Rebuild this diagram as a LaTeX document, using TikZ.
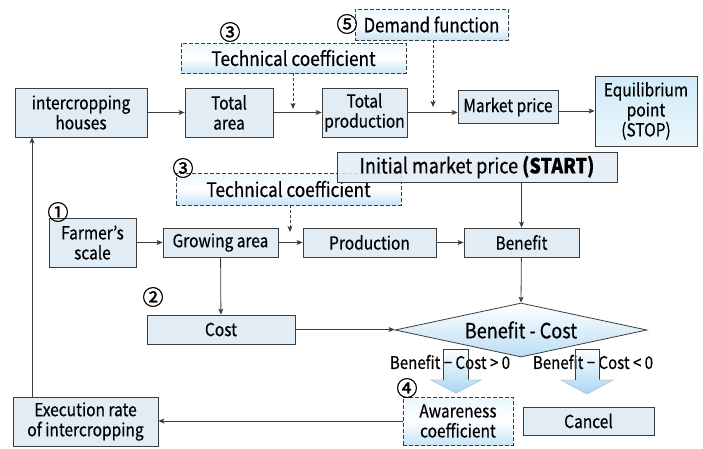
\documentclass[tikz,border=0pt]{standalone}
\usepackage{fontspec}
\setmainfont{Noto Sans CJK JP}[FakeStretch=0.86,FakeBold=0.4]
\newfontfamily\circfont{Noto Sans CJK JP}[FakeBold=1.5]
\usetikzlibrary{shapes.geometric,arrows.meta}
\definecolor{linegray}{HTML}{3C3C3C}
\definecolor{boxfill}{HTML}{E2ECF5}
\definecolor{lightcyan}{HTML}{EAF7FC}
\definecolor{midblue}{HTML}{C6E4F6}
\definecolor{arrblue}{HTML}{A9D6F2}
\begin{document}
\begin{tikzpicture}[x=1pt,y=-1pt,
  every node/.style={inner sep=0pt, align=center, text=black},
  txt/.style={font=\fontsize{18}{20}\selectfont},
  bigtxt/.style={font=\fontsize{20}{22}\selectfont},
  box/.style={txt, draw=linegray, line width=0.8pt, fill=boxfill},
  dbox/.style={txt, draw=linegray, line width=0.8pt, dash pattern=on 4pt off 2pt,
     top color=lightcyan, bottom color=midblue, middle color=white},
  numlbl/.style={font=\circfont\fontsize{21}{21}\selectfont},
  smalllbl/.style={font=\fontsize{17.5}{19}\selectfont},
  arr/.style={draw=linegray, line width=0.8pt, -{Stealth[length=6pt,width=5pt,inset=1.5pt]}},
  darr/.style={arr, dash pattern=on 3pt off 2pt}]
\useasboundingbox (0,0) rectangle (703,448);

% top row
\node[box, minimum width=132pt, minimum height=49pt] (ih) at (81,112.5) {intercropping\\houses};
\node[box, minimum width=88pt, minimum height=49pt] (ta) at (229,112.5) {Total\\area};
\node[box, minimum width=85pt, minimum height=49pt] (tp) at (364.5,112.5) {Total\\production};
\node[box, minimum width=100pt, minimum height=33pt] (mp) at (508,107) {Market price};
\node[txt, draw=linegray, line width=0.8pt, top color=midblue!80, bottom color=lightcyan,
      minimum width=102pt, minimum height=70pt] (eq) at (646,111) {Equilibrium\\point\\(STOP)};
\node[dbox, bigtxt, minimum width=225pt, minimum height=30pt] (tc1) at (293.5,58) {Technical coefficient};
\node[dbox, font=\fontsize{19.5}{21}\selectfont, minimum width=153pt, minimum height=31pt] (df) at (431.5,24.5) {Demand function};
\node[numlbl] (n5) at (347,24) {⑤};
\node[numlbl] (n3a) at (230,32) {③};

\coordinate (j1) at (293,109);
\coordinate (j2) at (433,107);
\draw[arr] (ih) -- (ta);
\draw[arr] (ta) -- (tp);
\draw[arr] (tp.east) -- (tp.east -| mp.west);
\draw[arr] (mp.east |- eq.west) -- (eq.west);
\draw[darr] (tc1.south -| j1) -- (j1);
\draw[darr] (df.south -| j2) -- (j2);

% middle row
\node[dbox, bigtxt, minimum width=225pt, minimum height=32pt] (tc2) at (288.5,189) {Technical coefficient};
\node[numlbl] (n3b) at (183,168) {③};
\node[draw=linegray, line width=0.8pt, fill=boxfill, fill opacity=0.85, text opacity=1,
      font=\fontsize{21}{22}\selectfont,
      minimum width=280pt, minimum height=30pt] (st) at (477,167) {Initial market price \textbf{(START)}};
\node[box, minimum width=87pt, minimum height=49pt] (fs) at (92.5,242.5) {Farmer’s\\scale};
\node[numlbl] (n1) at (58,212) {①};
\node[box, minimum width=115pt, minimum height=29pt] (ga) at (220.5,242.5) {Growing area};
\node[box, minimum width=133pt, minimum height=29pt] (pr) at (369.5,242.5) {Production};
\node[box, minimum width=115pt, minimum height=29pt] (be) at (521.5,242.5) {Benefit};

\coordinate (j3) at (290,232);
\draw[darr] (tc2.south -| j3) -- (j3);
\draw[arr] (fs.east |- ga.west) -- (ga.west);
\draw[arr] (ga) -- (pr);
\draw[arr] (pr) -- (be);
\draw[arr] (st.south -| be.north) -- (be.north);

% lower part
\node[box, minimum width=148pt, minimum height=29pt] (co) at (221,329.5) {Cost};
\node[numlbl] (n2) at (153,297) {②};
\node[diamond, draw=linegray, line width=0.8pt, aspect=4.67, minimum width=252pt, minimum height=54pt,
      top color=white, bottom color=arrblue!80, font=\fontsize{21}{22}\selectfont] (dm) at (521,330) {Benefit - Cost};
\draw[arr] (ga) -- (co);
\draw[arr] (be) -- (dm.north);
\draw[arr] (co.east) -- (co.east -| dm.west);

% block arrows (fill)
\fill[top color=white, bottom color=arrblue] (443,349) -- (468,349) -- (468,380) -- (481,380) -- (456,393) -- (431,380) -- (443,380) -- cycle;
\fill[top color=white, bottom color=arrblue] (575,349) -- (599,349) -- (599,380) -- (613,380) -- (587,394) -- (561,380) -- (575,380) -- cycle;

\node[smalllbl] (l1) at (450,362) {Benefit − Cost > 0};
\node[smalllbl] (l2) at (593,362) {Benefit − Cost < 0};

% block arrows (outline)
\draw[linegray, line width=0.8pt] (443,380) -- (443,349) -- (468,349) -- (468,380);
\draw[arrblue!80!black!60, line width=0.6pt] (443,380) -- (431,380) -- (456,393) -- (481,380) -- (468,380);
\draw[linegray, line width=0.8pt] (575,380) -- (575,349) -- (599,349) -- (599,380);
\draw[arrblue!80!black!60, line width=0.6pt] (575,380) -- (561,380) -- (587,394) -- (613,380) -- (599,380);

\node[dbox, minimum width=110pt, minimum height=48pt] (aw) at (458,421) {Awareness\\coefficient};
\node[numlbl] (n4) at (407,388) {④};
\node[box, minimum width=131pt, minimum height=28pt] (ca) at (588.5,421) {Cancel};
\node[box, minimum width=145pt, minimum height=49pt] (ex) at (85.5,421.5) {Execution rate\\of intercropping};

\draw[arr] (aw.west) -- (aw.west -| ex.east);
\coordinate (e1) at (32,397);
\draw[arr] (e1) -- (e1 |- ih.south);
\end{tikzpicture}
\end{document}
